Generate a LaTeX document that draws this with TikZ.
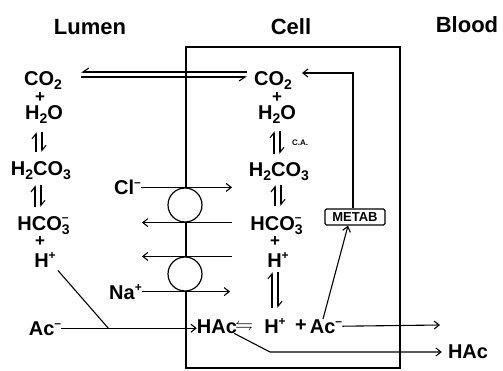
\documentclass[tikz,border=0pt]{standalone}
\usepackage{fontspec}
\setmainfont{Liberation Sans}
\usepackage{amssymb}
\usetikzlibrary{arrows.meta, positioning, calc}

\newcommand{\chsub}[1]{\raisebox{-4pt}{\fontsize{14}{14}\selectfont #1}}
\newcommand{\chsup}[1]{\raisebox{8pt}{\fontsize{12}{12}\selectfont #1}}
\newcommand{\chboth}[2]{\rlap{\chsub{#1}}\raisebox{1pt}{\chsup{#2}}}

\begin{document}
\begin{tikzpicture}[x=1pt, y=-1pt,
    every node/.style={font=\bfseries\fontsize{20}{22}\selectfont, inner sep=0pt},
    title/.style={font=\bfseries\fontsize{22}{24}\selectfont, anchor=base},
    chem/.style={anchor=base},
    plus/.style={font=\bfseries\fontsize{17}{17}\selectfont},
    flow/.style={line width=1.1pt, -{Straight Barb[length=5pt,width=8pt]}},
    harp/.style={line width=1.1pt, -{Straight Barb[harpoon,length=5pt,width=8pt]}},
    harpsw/.style={line width=1.1pt, -{Straight Barb[harpoon,swap,length=6pt,width=8pt]}},
    carrier/.style={draw, circle, fill=white, line width=1.2pt, minimum size=34pt}]
    \useasboundingbox (0,0) rectangle (503,371);
    \draw[line width=1.6pt] (186,47) rectangle (400,368);

    \node[title] (lumen) at (90,35) {Lumen};
    \node[title] (cell) at (291,35) {Cell};
    \node[title] (blood) at (467,33) {Blood};

    \node[chem] (lCO2) at (43,86) {CO\chsub{2}};
    \node[plus] (lPlusA) at (40,98) {+};
    \node[chem] (lH2O) at (44,120) {H\chsub{2}O};
    \node[chem] (lH2CO3) at (41,176) {H\chsub{2}CO\chsub{3}};
    \node[chem] (lHCO3) at (43,231) {HCO\chboth{3}{--}};
    \node[plus] (lPlusB) at (40,242) {+};
    \node[chem] (lH) at (45,268) {H\chsup{+}};
    \node[chem] (lAc) at (45,335) {Ac\chsup{--}};

    \node[chem] (cCO2) at (273,86) {CO\chsub{2}};
    \node[plus] (cPlusA) at (277,98) {+};
    \node[chem] (cH2O) at (277,120) {H\chsub{2}O};
    \node[font=\bfseries\fontsize{8}{9}\selectfont] (ca) at (300,143) {C.A.};
    \node[chem] (cH2CO3) at (279,177) {H\chsub{2}CO\chsub{3}};
    \node[chem] (cHCO3) at (276,231) {HCO\chboth{3}{--}};
    \node[plus] (cPlusB) at (275,242) {+};
    \node[chem] (cH) at (278,268) {H\chsup{+}};

    \node[chem] (bHAc) at (217,333) {HAc};
    \node[font=\fontsize{18}{18}\selectfont] (eqs) at (244,326) {$\leftrightharpoons$};
    \node[chem] (bH) at (275,333) {H\chsup{+}};
    \node (bPlus) at (301,326) {+};
    \node[chem] (bAc) at (326,333) {Ac\chsup{--}};
    \node (oHAc) at (468,352) {HAc};

    \node[draw, line width=1.3pt, rounded corners=1.5pt, minimum width=60pt, minimum height=16pt,
        font=\bfseries\fontsize{13}{14}\selectfont] (metab) at (355,217) {METAB};

    \coordinate (acOut) at (440,325);
    \coordinate (kink) at (270,352);
    \coordinate (join) at ($(lAc.east)+(47,0)$);

    \draw[harpsw, shorten <=7pt, shorten >=19pt] ([yshift=9pt]cCO2.west) -- ([yshift=9pt]lCO2.east);
    \draw[harpsw, shorten <=19pt, shorten >=7pt] ([yshift=4pt]lCO2.east) -- ([yshift=4pt]cCO2.west);

    \foreach \ua/\ub/\dx/\sA/\sB in {lH2O/lH2CO3/-5/8/10, lH2CO3/lHCO3/-3/5/10,
        cH2O/cH2CO3/0/7/9, cH2CO3/cHCO3/-1/4/11, cH/bH/-3/4/10} {
        \draw[harp, shorten <=\sB pt, shorten >=\sA pt] ([xshift={\dx pt-3pt}]\ua.south |- \ub.north) -- ([xshift={\dx pt-3pt}]\ua.south);
        \draw[harp, shorten <=\sA pt, shorten >=\sB pt] ([xshift={\dx pt+3pt}]\ua.south) -- ([xshift={\dx pt+3pt}]\ua.south |- \ub.north);
    }

    \draw[flow, shorten >=10pt] ([xshift=-2pt]metab.north) |- ([yshift=8pt]cCO2.east);
    \draw[flow] ([xshift=-3pt]bAc.north) -- ([xshift=-7pt]metab.south);
    \draw[flow] (bAc.east) -- (acOut);
    \draw[flow, shorten >=6pt] ([xshift=-3pt]bHAc.south east) -- (kink) -- (oHAc.west);
    \draw[flow] (lAc.east) -- (lAc.east -| bHAc.west);
    \draw[line width=1.1pt, shorten <=3pt] (lH.south east) -- (join);

    \node[carrier] (clT) at (185,205) {};
    \node[carrier] (naT) at (185,274) {};
    \node[anchor=east] (clion) at ([xshift=-44pt]clT.north) {Cl\chsup{--}};
    \node[anchor=east] (naion) at ([xshift=-43pt]naT.south) {Na\chsup{+}};
    \draw[flow] (clion.east) -- ([xshift=47pt]clT.north);
    \draw[flow] ([xshift=47pt]clT.south) -- ([xshift=-43pt]clT.south);
    \draw[flow] ([xshift=47pt]naT.north) -- ([xshift=-43pt]naT.north);
    \draw[flow] (naion.east) -- ([xshift=45pt]naT.south);
\end{tikzpicture}
\end{document}
